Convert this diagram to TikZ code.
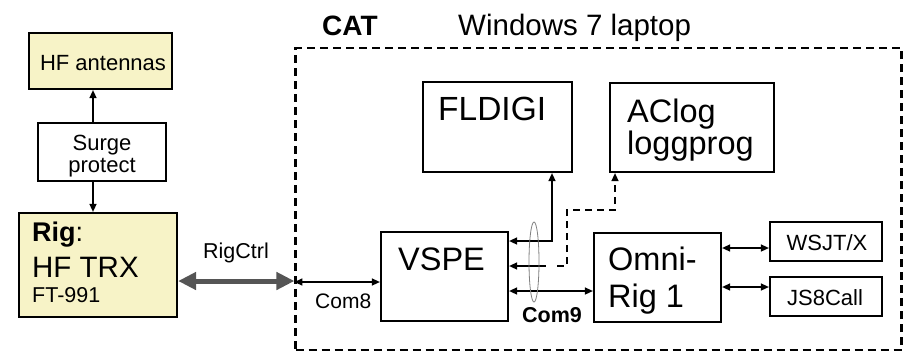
\documentclass[tikz,border=0pt]{standalone}
\usepackage{fontspec}
\setmainfont{Liberation Sans}
\usetikzlibrary{arrows.meta,shapes.geometric}
\definecolor{paleyellow}{RGB}{247,243,199}
\definecolor{rigarrow}{RGB}{85,85,85}
\begin{document}
\begin{tikzpicture}[x=1pt,y=-1pt,
  box/.style={draw, line width=2.2pt, inner sep=0pt},
  ybox/.style={box, fill=paleyellow},
  frame/.style={draw, line width=2.2pt, dash pattern=on 8pt off 5pt, inner sep=0pt},
  txt/.style={inner sep=0pt, anchor=base west},
  big/.style={font=\fontsize{32.5}{35}\selectfont},
  mid/.style={font=\fontsize{22}{24}\selectfont},
  arr/.style={line width=1.4pt, {Triangle[length=8pt,width=7pt]}-{Triangle[length=8pt,width=7pt]}},
  arrto/.style={line width=1.4pt, -{Triangle[length=8pt,width=7pt]}},
  arrfrom/.style={line width=1.4pt, {Triangle[length=8pt,width=7pt]}-},
  rigctrl/.style={draw=rigarrow, line width=5pt, {Triangle[length=18pt,width=17pt]}-{Triangle[length=18pt,width=17pt]}, color=rigarrow}
]
\useasboundingbox (0,0) rectangle (917,360);

% frame
\node[frame, minimum width=606pt, minimum height=302pt] (lap) at (598.5,199) {};
\node[txt, font=\bfseries\fontsize{28}{30}\selectfont] (cat) at (322,35) {CAT};
\node[txt, font=\fontsize{29.5}{32}\selectfont] (win) at (458,35) {Windows 7 laptop};

% left side
\node[ybox, minimum width=143pt, minimum height=56pt] (ant) at (100.5,61) {};
\node[txt, mid, anchor=base] (antt) at (103,70) {HF antennas};
\node[box, fill=white, minimum width=128pt, minimum height=58pt] (surge) at (102,152) {};
\node[txt, mid, anchor=base] (surget1) at (102,150) {Surge};
\node[txt, mid, anchor=base] (surget2) at (102,172) {protect};
\node[ybox, minimum width=158pt, minimum height=104pt] (rig) at (98,265) {};
\node[txt, font=\fontsize{27}{30}\selectfont] (rigt1) at (32,241) {\textbf{Rig}:};
\node[txt, font=\fontsize{29.5}{32}\selectfont] (rigt2) at (32,277) {HF TRX};
\node[txt, font=\fontsize{21.5}{23}\selectfont] (rigt3) at (32,302) {FT-991};

\draw[arrto] (surge.north -| 93,0) -- (ant.south -| 93,0);
\draw[arrto] (surge.south -| 93,0) -- (rig.north -| 93,0);

\draw[rigctrl] (rig.east |- 0,281) -- (lap.west |- 0,281);
\node[txt, font=\fontsize{21.5}{23}\selectfont] (rigctrlt) at (203,258) {RigCtrl};

% inner boxes
\node[box, minimum width=149pt, minimum height=90pt] (fldigi) at (497.5,127) {};
\node[txt, big, font=\fontsize{33.5}{35}\selectfont] (fldigit) at (438,120) {FLDIGI};
\node[box, minimum width=164pt, minimum height=89pt] (aclog) at (692,127.5) {};
\node[txt, big] (aclogt1) at (627,122) {AClog};
\node[txt, big] (aclogt2) at (627,154) {loggprog};
\node[box, minimum width=127pt, minimum height=89pt] (vspe) at (444.5,276.5) {};
\node[txt, big] (vspet) at (398,270) {VSPE};
\node[box, minimum width=127pt, minimum height=89pt] (omni) at (657.5,277.5) {};
\node[txt, big] (omnit1) at (608,270) {Omni-};
\node[txt, big] (omnit2) at (608,307) {Rig 1};
\node[box, minimum width=112pt, minimum height=39pt] (wsjt) at (826,241.5) {};
\node[txt, mid, anchor=base] (wsjtt) at (827,250) {WSJT/X};
\node[box, minimum width=112pt, minimum height=39pt] (js8) at (826,296.5) {};
\node[txt, mid, anchor=base] (js8t) at (825,305) {JS8Call};

% connectors
\draw[arr] (lap.west |- 0,282) -- (vspe.west |- 0,282);
\node[txt, font=\fontsize{21}{23}\selectfont] (com8) at (315,308) {Com8};

\draw[arr] (vspe.east |- 0,241) -- (552,241) -- (fldigi.south -| 552,0);
\coordinate (dj) at (546,266);
\draw[arrfrom] (vspe.east |- 0,266) -- (dj);
\draw[arrto, dash pattern=on 7pt off 5pt] (dj) ++(11,0) -- (567,266) -- (567,210) -- (615,210) -- (aclog.south -| 615,0);
\draw[arr] (vspe.east |- 0,291) -- (omni.west |- 0,291);
\node[draw=gray, line width=0.8pt, ellipse, inner sep=0pt, minimum width=10pt, minimum height=80pt] (bundle) at (534,262) {};
\node[txt, font=\bfseries\fontsize{21.5}{23}\selectfont] (com9) at (522,322) {Com9};

\draw[arr] (omni.east |- 0,248) -- (wsjt.west |- 0,248);
\draw[arr] (omni.east |- 0,287) -- (js8.west |- 0,287);
\end{tikzpicture}
\end{document}
